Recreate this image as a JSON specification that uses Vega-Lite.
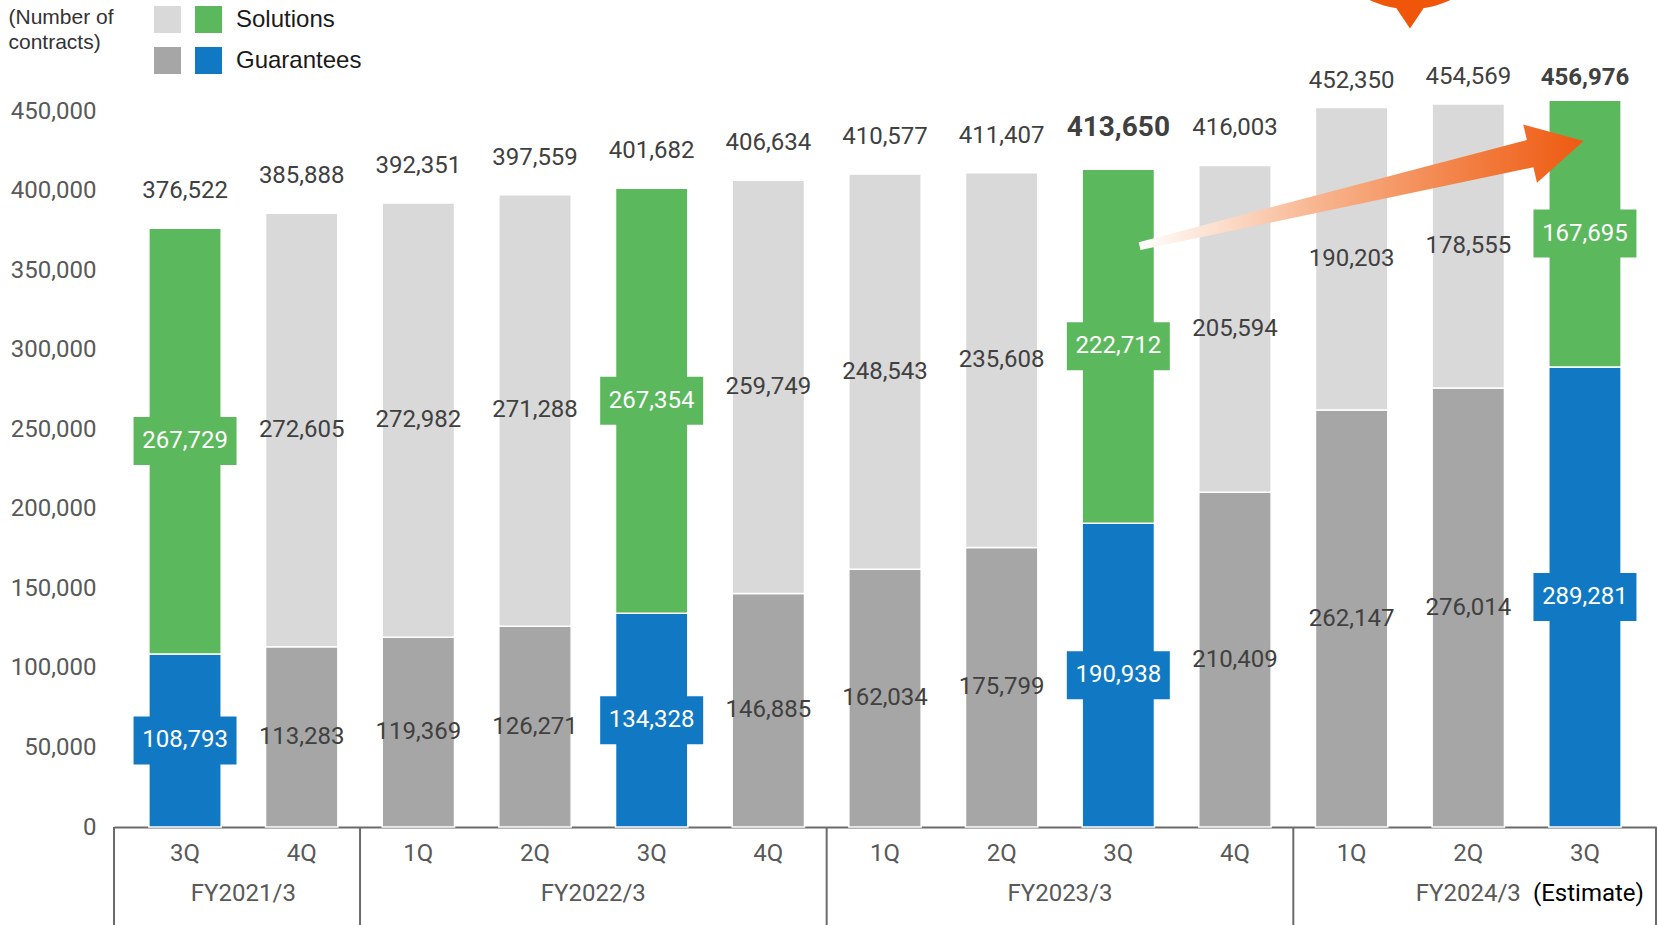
{
  "$schema": "https://vega.github.io/schema/vega-lite/v6.json",
  "width": 1542,
  "height": 827,
  "autosize": {"type": "none"},
  "padding": {"left": 114, "top": 0, "right": 3, "bottom": 98},
  "background": "white",
  "config": {"view": {"stroke": null}, "font": "Roboto"},
  "data": {
    "values": [
      {"period": "FY2021/3|3Q", "fy": "FY2021/3", "q": "3Q", "guarantees": 108793, "solutions": 267729, "total": 376522},
      {"period": "FY2021/3|4Q", "fy": "FY2021/3", "q": "4Q", "guarantees": 113283, "solutions": 272605, "total": 385888},
      {"period": "FY2022/3|1Q", "fy": "FY2022/3", "q": "1Q", "guarantees": 119369, "solutions": 272982, "total": 392351},
      {"period": "FY2022/3|2Q", "fy": "FY2022/3", "q": "2Q", "guarantees": 126271, "solutions": 271288, "total": 397559},
      {"period": "FY2022/3|3Q", "fy": "FY2022/3", "q": "3Q", "guarantees": 134328, "solutions": 267354, "total": 401682},
      {"period": "FY2022/3|4Q", "fy": "FY2022/3", "q": "4Q", "guarantees": 146885, "solutions": 259749, "total": 406634},
      {"period": "FY2023/3|1Q", "fy": "FY2023/3", "q": "1Q", "guarantees": 162034, "solutions": 248543, "total": 410577},
      {"period": "FY2023/3|2Q", "fy": "FY2023/3", "q": "2Q", "guarantees": 175799, "solutions": 235608, "total": 411407},
      {"period": "FY2023/3|3Q", "fy": "FY2023/3", "q": "3Q", "guarantees": 190938, "solutions": 222712, "total": 413650},
      {"period": "FY2023/3|4Q", "fy": "FY2023/3", "q": "4Q", "guarantees": 210409, "solutions": 205594, "total": 416003},
      {"period": "FY2024/3|1Q", "fy": "FY2024/3", "q": "1Q", "guarantees": 262147, "solutions": 190203, "total": 452350},
      {"period": "FY2024/3|2Q", "fy": "FY2024/3", "q": "2Q", "guarantees": 276014, "solutions": 178555, "total": 454569},
      {"period": "FY2024/3|3Q", "fy": "FY2024/3", "q": "3Q", "guarantees": 289281, "solutions": 167695, "total": 456976}
    ]
  },
  "transform": [
    {"calculate": "datum.guarantees / 2", "as": "gmid"},
    {"calculate": "datum.guarantees + datum.solutions / 2", "as": "smid"}
  ],
  "encoding": {
    "x": {
      "field": "period",
      "type": "nominal",
      "scale": {"paddingInner": 0, "paddingOuter": 0.109},
      "axis": {
        "title": null,
        "labelExpr": "split(datum.label, '|')[1]",
        "labelFont": "Roboto",
        "labelFontSize": 24,
        "labelColor": "#595959",
        "labelPadding": 14,
        "labelAngle": 0,
        "ticks": false,
        "tickSize": 0,
        "domainColor": "#6B6B6B",
        "domainWidth": 2
      }
    }
  },
  "layer": [
    {
      "transform": [{"calculate": "datum.q == '3Q' ? 'G' : 'G0'", "as": "ckey"}],
      "mark": {"type": "bar", "width": {"band": 0.62}, "stroke": "#FFFFFF", "strokeWidth": 1.5},
      "encoding": {
        "y": {
          "field": "guarantees",
          "type": "quantitative",
          "stack": null,
          "scale": {"domain": [0, 520000], "nice": false},
          "axis": {
            "title": ["(Number of", "contracts)"],
            "titleAngle": 0,
            "titleAlign": "left",
            "titleBaseline": "top",
            "titleX": -106,
            "titleY": 6,
            "titleFont": "Liberation Sans",
            "titleFontSize": 21,
            "titleFontWeight": "normal",
            "titleColor": "#333333",
            "titleLineHeight": 25,
            "values": [0, 50000, 100000, 150000, 200000, 250000, 300000, 350000, 400000, 450000],
            "format": ",",
            "labelExpr": "format(datum.value, ',')",
            "labelFont": "Roboto",
            "labelFontSize": 24,
            "labelColor": "#595959",
            "labelPadding": 18,
            "ticks": false,
            "tickSize": 0,
            "domain": false,
            "grid": false
          }
        },
        "color": {
          "field": "ckey",
          "type": "nominal",
          "scale": {"domain": ["S0", "S", "G0", "G"], "range": ["#D9D9D9", "#5CB85C", "#A6A6A6", "#1179C4"]},
          "legend": {
            "orient": "none",
            "legendX": 40,
            "legendY": 6,
            "columns": 2,
            "direction": "horizontal",
            "title": null,
            "padding": 0,
            "symbolType": "square",
            "symbolSize": 729,
            "symbolStrokeWidth": 0,
            "symbolOpacity": 1,
            "labelExpr": "datum.label == 'S' ? 'Solutions' : datum.label == 'G' ? 'Guarantees' : ''",
            "labelFont": "Liberation Sans",
            "labelFontSize": 24,
            "labelColor": "#1A1A1A",
            "labelOffset": 14,
            "columnPadding": 0,
            "rowPadding": 14
          }
        }
      }
    },
    {
      "transform": [{"calculate": "datum.q == '3Q' ? 'S' : 'S0'", "as": "ckey"}],
      "mark": {"type": "bar", "width": {"band": 0.62}, "stroke": "#FFFFFF", "strokeWidth": 1.5},
      "encoding": {
        "y": {"field": "total", "type": "quantitative", "stack": null},
        "y2": {"field": "guarantees"},
        "color": {"field": "ckey", "type": "nominal"}
      }
    },
    {
      "transform": [{"filter": "datum.q == '3Q'"}],
      "mark": {"type": "point", "shape": "M-1,-0.466H1V0.466H-1Z", "size": 10609, "filled": true, "opacity": 1, "fill": "#1179C4", "strokeWidth": 0},
      "encoding": {"y": {"field": "gmid", "type": "quantitative"}}
    },
    {
      "transform": [{"filter": "datum.q == '3Q'"}],
      "mark": {"type": "point", "shape": "M-1,-0.466H1V0.466H-1Z", "size": 10609, "filled": true, "opacity": 1, "fill": "#5CB85C", "strokeWidth": 0},
      "encoding": {"y": {"field": "smid", "type": "quantitative"}}
    },
    {
      "transform": [{"filter": "datum.q != '3Q'"}],
      "mark": {"type": "text", "font": "Roboto", "fontSize": 24, "color": "#404040", "baseline": "middle"},
      "encoding": {
        "y": {"field": "gmid", "type": "quantitative"},
        "text": {"field": "guarantees", "type": "quantitative", "format": ","}
      }
    },
    {
      "transform": [{"filter": "datum.q != '3Q'"}],
      "mark": {"type": "text", "font": "Roboto", "fontSize": 24, "color": "#404040", "baseline": "middle"},
      "encoding": {
        "y": {"field": "smid", "type": "quantitative"},
        "text": {"field": "solutions", "type": "quantitative", "format": ","}
      }
    },
    {
      "transform": [{"filter": "datum.q == '3Q'"}],
      "mark": {"type": "text", "font": "Roboto", "fontSize": 24, "color": "#FFFFFF", "baseline": "middle"},
      "encoding": {
        "y": {"field": "gmid", "type": "quantitative"},
        "text": {"field": "guarantees", "type": "quantitative", "format": ","}
      }
    },
    {
      "transform": [{"filter": "datum.q == '3Q'"}],
      "mark": {"type": "text", "font": "Roboto", "fontSize": 24, "color": "#FFFFFF", "baseline": "middle"},
      "encoding": {
        "y": {"field": "smid", "type": "quantitative"},
        "text": {"field": "solutions", "type": "quantitative", "format": ","}
      }
    },
    {
      "transform": [{"filter": "datum.fy != 'FY2024/3' && datum.period != 'FY2023/3|3Q'"}],
      "mark": {"type": "text", "font": "Roboto", "fontSize": 24, "color": "#404040", "baseline": "middle", "dy": -37},
      "encoding": {
        "y": {"field": "total", "type": "quantitative"},
        "text": {"field": "total", "type": "quantitative", "format": ","}
      }
    },
    {
      "transform": [{"filter": "datum.period == 'FY2024/3|1Q' || datum.period == 'FY2024/3|2Q'"}],
      "mark": {"type": "text", "font": "Roboto", "fontSize": 24, "color": "#404040", "baseline": "middle", "dy": -27},
      "encoding": {
        "y": {"field": "total", "type": "quantitative"},
        "text": {"field": "total", "type": "quantitative", "format": ","}
      }
    },
    {
      "transform": [{"filter": "datum.period == 'FY2023/3|3Q'"}],
      "mark": {"type": "text", "font": "Roboto", "fontSize": 28, "fontWeight": "bold", "color": "#404040", "baseline": "middle", "dy": -41},
      "encoding": {
        "y": {"field": "total", "type": "quantitative"},
        "text": {"field": "total", "type": "quantitative", "format": ","}
      }
    },
    {
      "transform": [{"filter": "datum.period == 'FY2024/3|3Q'"}],
      "mark": {"type": "text", "font": "Roboto", "fontSize": 24, "fontWeight": "bold", "color": "#404040", "baseline": "middle", "dy": -22},
      "encoding": {
        "y": {"field": "total", "type": "quantitative"},
        "text": {"field": "total", "type": "quantitative", "format": ","}
      }
    },
    {
      "transform": [{"filter": "datum.q == '1Q'"}],
      "mark": {"type": "rule", "color": "#6B6B6B", "strokeWidth": 2},
      "encoding": {
        "x": {"field": "period", "type": "nominal", "bandPosition": 0},
        "y": {"datum": 0, "type": "quantitative"},
        "y2": {"datum": -70000}
      }
    },
    {
      "transform": [{"filter": "datum.period == 'FY2021/3|3Q'"}],
      "mark": {"type": "rule", "color": "#6B6B6B", "strokeWidth": 2},
      "encoding": {
        "x": {"field": "period", "type": "nominal", "bandPosition": -0.109},
        "y": {"datum": 0, "type": "quantitative"},
        "y2": {"datum": -70000}
      }
    },
    {
      "transform": [{"filter": "datum.period == 'FY2024/3|3Q'"}],
      "mark": {"type": "rule", "color": "#6B6B6B", "strokeWidth": 2},
      "encoding": {
        "x": {"field": "period", "type": "nominal", "bandPosition": 1.109},
        "y": {"datum": 0, "type": "quantitative"},
        "y2": {"datum": -70000}
      }
    },
    {
      "transform": [{"filter": "(datum.q == '2Q' && datum.fy != 'FY2024/3') || datum.period == 'FY2021/3|3Q'"}],
      "mark": {"type": "text", "font": "Roboto", "fontSize": 24, "color": "#595959", "baseline": "middle"},
      "encoding": {
        "x": {"field": "period", "type": "nominal", "bandPosition": 1},
        "y": {"datum": -42100, "type": "quantitative"},
        "text": {"field": "fy", "type": "nominal"}
      }
    },
    {
      "transform": [{"filter": "datum.period == 'FY2024/3|2Q'"}],
      "mark": {"type": "text", "font": "Roboto", "fontSize": 24, "color": "#595959", "baseline": "middle"},
      "encoding": {
        "y": {"datum": -42100, "type": "quantitative"},
        "text": {"field": "fy", "type": "nominal"}
      }
    },
    {
      "transform": [{"filter": "datum.period == 'FY2024/3|3Q'"}],
      "mark": {"type": "text", "font": "Roboto", "fontSize": 24, "color": "#000000", "baseline": "middle", "align": "left", "dx": -52},
      "encoding": {
        "y": {"datum": -42100, "type": "quantitative"},
        "text": {"value": "(Estimate)"}
      }
    },
    {
      "transform": [{"filter": "datum.period == 'FY2024/3|1Q'"}],
      "mark": {
        "type": "point",
        "shape": "M-0.8444,0.2236L0.7268,-0.1068L0.7416,-0.0448L0.928,-0.212L0.6864,-0.278L0.7012,-0.216L-0.8516,0.1924Z",
        "size": 250000,
        "filled": true,
        "opacity": 1,
        "strokeWidth": 0,
        "fill": {
          "gradient": "linear",
          "x1": 0, "y1": 0, "x2": 1, "y2": 0,
          "stops": [
            {"offset": 0, "color": "#FFFFFF"},
            {"offset": 0.4, "color": "#F8B58F"},
            {"offset": 0.75, "color": "#F27D40"},
            {"offset": 1, "color": "#EE5A10"}
          ]
        }
      },
      "encoding": {
        "y": {"datum": 398000, "type": "quantitative"}
      }
    },
    {
      "transform": [{"filter": "datum.period == 'FY2024/3|1Q'"}],
      "mark": {
        "type": "point",
        "shape": "M-1,0A1,1,0,1,0,1,0A1,1,0,1,0,-1,0ZM-0.17,0.95L0,1.205L0.17,0.95Z",
        "size": 36557,
        "filled": true,
        "opacity": 1,
        "strokeWidth": 0,
        "fill": "#F0560A"
      },
      "encoding": {
        "x": {"field": "period", "type": "nominal", "bandPosition": 1},
        "y": {"datum": 574450, "type": "quantitative"}
      }
    }
  ]
}
